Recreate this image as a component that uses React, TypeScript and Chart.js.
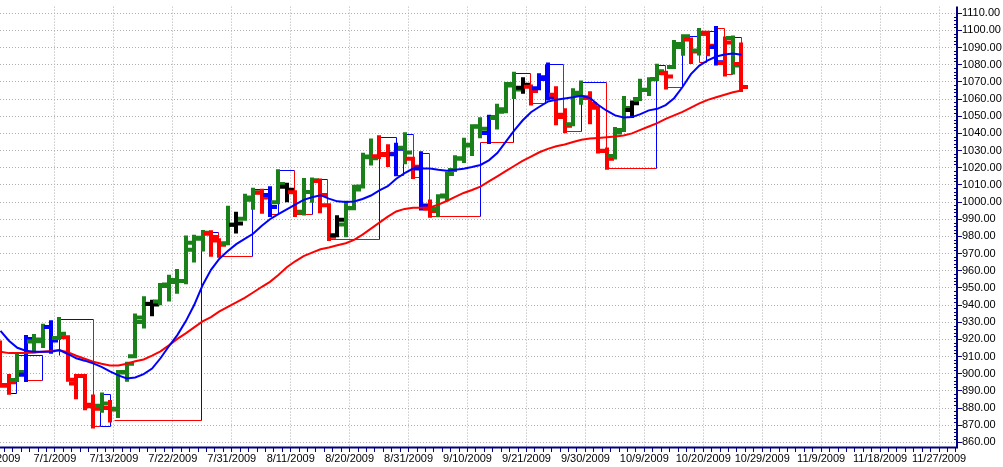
import React, { useEffect, useRef } from 'react';
import { Chart, registerables } from 'chart.js';

Chart.register(...registerables);

// ---------- data ----------
// x tick labels: one every 7 trading days, starting at day index 0 (6/22/2009)
const xTickLabels = [
  '6/22/2009', '7/1/2009', '7/13/2009', '7/22/2009', '7/31/2009', '8/11/2009',
  '8/20/2009', '8/31/2009', '9/10/2009', '9/21/2009', '9/30/2009', '10/9/2009',
  '10/20/2009', '10/29/2009', '11/9/2009', '11/18/2009', '11/27/2009',
];

const yTickValues = [
  860, 870, 880, 890, 900, 910, 920, 930, 940, 950, 960, 970, 980, 990, 1000,
  1010, 1020, 1030, 1040, 1050, 1060, 1070, 1080, 1090, 1100, 1110,
];

const opens = [
  918.13, 893.46, 896.31, 899.45, 918.84, 919.86, 927.15, 920.82, 921.24, 894.27,
  898.6, 881.9, 881.28, 880.03, 879.57, 900.77, 910.15, 930.17, 940.56, 942.07,
  951.97, 953.4, 954.07, 972.16, 978.63, 981.48, 977.66, 976.01, 986.8, 990.22,
  1001.41, 1005.41, 1004.06, 999.83, 1008.89, 1005.77, 994.0, 1005.86, 1012.23, 998.18,
  980.62, 986.88, 996.41, 1009.06, 1026.59, 1026.63, 1027.35, 1027.81, 1031.62, 1025.21,
  1019.52, 996.07, 996.12, 1003.84, 1018.67, 1025.36, 1032.99, 1043.92, 1040.15, 1049.03,
  1053.99, 1067.87, 1066.6, 1067.14, 1066.35, 1072.69, 1062.56, 1049.48, 1045.38, 1063.69,
  1061.02, 1054.91, 1029.71, 1026.87, 1042.02, 1053.65, 1060.03, 1065.28, 1071.63, 1074.96,
  1078.68, 1090.36, 1094.67, 1088.22, 1098.64, 1090.36, 1080.96, 1095.62, 1080.36,
];
const highs = [
  918.13, 898.69, 910.85, 921.42, 922.0, 927.99, 930.01, 931.92, 921.24, 898.72,
  898.6, 886.8, 887.86, 883.57, 901.05, 905.84, 933.95, 943.96, 941.89, 951.62,
  956.53, 959.83, 979.42, 979.79, 982.49, 982.35, 977.76, 996.68, 993.18, 1003.61,
  1007.12, 1006.64, 1008.0, 1018.0, 1010.12, 1005.77, 1012.78, 1013.14, 1012.6, 998.18,
  991.2, 999.61, 1008.92, 1027.59, 1035.82, 1037.75, 1032.47, 1033.33, 1039.47, 1025.21,
  1028.45, 1000.34, 1003.43, 1016.48, 1026.07, 1036.34, 1044.14, 1048.18, 1049.74, 1056.04,
  1068.76, 1074.77, 1071.52, 1067.28, 1073.81, 1080.15, 1066.29, 1053.47, 1065.13, 1069.62,
  1063.4, 1054.91, 1030.6, 1042.58, 1060.55, 1058.02, 1070.67, 1071.51, 1079.46, 1075.3,
  1093.17, 1096.56, 1094.67, 1100.17, 1098.64, 1101.36, 1095.21, 1095.83, 1091.75,
];
const lows = [
  893.04, 888.86, 896.31, 896.27, 913.03, 916.18, 912.86, 920.82, 896.42, 886.36,
  879.93, 869.32, 878.45, 872.81, 875.32, 896.5, 910.15, 927.45, 934.65, 940.99,
  943.22, 947.75, 953.27, 965.95, 972.29, 969.35, 968.65, 976.01, 982.85, 990.22,
  996.68, 994.31, 992.49, 999.83, 1000.99, 992.4, 993.36, 1000.82, 994.6, 978.51,
  980.62, 980.62, 996.39, 1009.06, 1022.48, 1026.21, 1021.57, 1016.2, 1023.13, 1014.62,
  996.28, 991.97, 992.25, 1001.65, 1018.67, 1023.97, 1028.04, 1038.4, 1035.0, 1043.42,
  1052.87, 1061.2, 1064.27, 1057.46, 1066.35, 1060.39, 1045.85, 1041.17, 1045.38, 1057.83,
  1046.47, 1029.45, 1019.95, 1025.92, 1042.02, 1050.1, 1060.03, 1063.0, 1071.63, 1066.71,
  1078.68, 1086.41, 1081.53, 1086.48, 1086.16, 1080.77, 1074.31, 1075.49, 1065.23,
];
const closes = [
  893.04, 895.1, 900.94, 920.26, 918.9, 927.23, 919.32, 923.33, 896.42, 898.72,
  881.03, 879.56, 882.68, 879.13, 901.05, 905.84, 932.68, 940.74, 940.38, 951.13,
  954.58, 954.07, 976.29, 979.26, 982.18, 979.62, 975.15, 986.75, 987.48, 1002.63,
  1005.65, 1002.72, 997.08, 1010.48, 1007.1, 994.35, 1005.81, 1012.73, 1004.09, 979.73,
  989.67, 996.46, 1007.37, 1026.13, 1025.57, 1028.0, 1028.12, 1030.98, 1028.93, 1020.62,
  998.04, 994.75, 1003.24, 1016.4, 1025.39, 1033.37, 1044.14, 1042.73, 1049.34, 1052.63,
  1068.76, 1065.49, 1068.3, 1064.66, 1071.66, 1060.87, 1050.78, 1044.38, 1062.98, 1060.61,
  1057.08, 1029.85, 1025.21, 1040.46, 1054.72, 1057.58, 1065.48, 1071.49, 1076.19, 1073.19,
  1092.02, 1096.56, 1087.68, 1097.91, 1091.06, 1081.4, 1092.91, 1079.6, 1066.95,
];
// bar colour codes: g green, r red, b blue, k black
const barColors = [
  'r', 'r', 'g', 'b', 'g', 'g', 'b', 'g', 'r', 'r',
  'r', 'r', 'g', 'r', 'g', 'g', 'g', 'g', 'k', 'g',
  'g', 'g', 'g', 'g', 'g', 'r', 'r', 'g', 'k', 'g',
  'g', 'r', 'b', 'g', 'k', 'r', 'g', 'g', 'r', 'r',
  'k', 'g', 'g', 'g', 'g', 'r', 'r', 'b', 'g', 'r',
  'b', 'r', 'g', 'g', 'g', 'g', 'g', 'g', 'b', 'g',
  'g', 'g', 'k', 'r', 'b', 'b', 'r', 'r', 'g', 'g',
  'r', 'r', 'r', 'g', 'g', 'k', 'g', 'g', 'g', 'r',
  'g', 'g', 'r', 'g', 'r', 'b', 'r', 'g', 'r',
];

// fast (blue) and slow (red) moving averages
const maFast = [
  925, 919.2, 915.1, 913.4, 912.8, 912.8, 912.8, 913.8, 911.5, 909,
  907.6, 906, 904, 901.4, 899, 897.2, 897.8, 899.8, 903, 909,
  916, 922.5, 930.5, 940, 951.5, 960.5, 967, 971.5, 975.5, 978.5,
  981.5, 986, 990, 993, 995.8, 998.5, 1001.3, 1002.8, 1004, 1002,
  1000.4, 1000, 1000.3, 1001.8, 1003.8, 1006.8, 1009.2, 1013.6, 1016.8, 1019.5,
  1019.6, 1019.6, 1018.8, 1018.2, 1018.8, 1019.4, 1020.4, 1021.6, 1024.3, 1028.5,
  1035, 1041.6, 1047.5, 1052.3, 1055.5, 1058.5, 1059.6, 1060.3, 1061, 1061.9,
  1060.6, 1056.5, 1053.2, 1050.5, 1049.3, 1049.5, 1051.2, 1053.4, 1054.3, 1056.5,
  1060.5, 1067, 1074.5, 1079.5, 1082.5, 1084.8, 1086, 1086.5, 1085.8,
];
const maSlow = [
  912.8, 912, 912, 912, 912.3, 912.8, 913.3, 913.7, 912.5, 910.5,
  908.7, 907, 905.8, 904.8, 904.8, 905.8, 907.3, 908.3, 910.5, 913,
  916.5, 920.3, 923.5, 927, 930.5, 933, 936.3, 939, 941.5, 944.2,
  947.3, 950.5, 953.5, 957.5, 962, 965.5, 968.5, 970.5, 972.5, 973.5,
  974.8, 976, 978, 981, 984.5, 988, 991.5, 994.5, 996, 996.7,
  996.7, 996.8, 998.5, 1000.6, 1003, 1005.3, 1007, 1009, 1012, 1015,
  1018, 1021, 1024, 1026.5, 1029, 1031, 1032.5, 1033.5, 1035, 1036.3,
  1037, 1037.3, 1037.7, 1038.2, 1038.8, 1040, 1042, 1044, 1046, 1048.5,
  1050.5, 1052.5, 1055, 1057.5, 1059.5, 1061, 1062.5, 1064, 1065,
];

// swing box lines: [dayFrom, priceFrom, dayTo, priceTo, colour]
const swingLines: [number, number, number, number, string][] = [
  [0.75, 889.0, 1.85, 889.0, 'k'],
  [1.85, 889.0, 1.85, 910.9, 'b'],
  [1.85, 910.9, 4.9, 910.9, 'b'],
  [2.9, 910.9, 2.9, 896.3, 'r'],
  [2.9, 896.3, 4.9, 896.3, 'r'],
  [4.9, 896.3, 4.9, 910.9, 'b'],
  [6.9, 910.9, 6.9, 931.9, 'b'],
  [6.9, 931.9, 10.95, 931.9, 'b'],
  [10.95, 931.9, 10.95, 869.3, 'r'],
  [10.95, 869.3, 11.85, 869.3, 'r'],
  [11.85, 869.3, 11.85, 887.9, 'b'],
  [11.85, 887.9, 12.95, 887.9, 'b'],
  [12.95, 887.9, 12.95, 869.3, 'b'],
  [11.85, 869.3, 12.95, 869.3, 'b'],
  [13.5, 873.2, 23.85, 873.2, 'r'],
  [23.85, 873.2, 23.85, 982.8, 'b'],
  [23.85, 982.8, 25.85, 982.8, 'b'],
  [25.85, 982.8, 25.85, 968.7, 'r'],
  [25.85, 968.7, 29.9, 968.7, 'r'],
  [29.9, 968.7, 29.9, 1007.6, 'b'],
  [29.9, 1007.6, 32.0, 1007.6, 'b'],
  [32.0, 1007.6, 32.0, 992.9, 'b'],
  [32.0, 992.9, 32.9, 992.9, 'r'],
  [32.9, 992.9, 32.9, 1018.6, 'b'],
  [32.9, 1018.6, 34.9, 1018.6, 'b'],
  [34.9, 1018.6, 34.9, 992.9, 'r'],
  [34.9, 992.9, 36.95, 992.9, 'r'],
  [36.95, 992.9, 36.95, 1013.3, 'b'],
  [36.95, 1013.3, 38.75, 1013.3, 'b'],
  [38.75, 1013.3, 38.75, 978.6, 'r'],
  [38.75, 978.6, 44.9, 978.6, 'r'],
  [44.9, 978.6, 44.9, 1037.7, 'b'],
  [44.9, 1037.7, 46.95, 1037.7, 'b'],
  [46.95, 1037.7, 46.95, 1015.8, 'b'],
  [46.95, 1015.8, 47.85, 1015.8, 'r'],
  [47.85, 1015.8, 47.85, 1039.5, 'b'],
  [47.85, 1039.5, 49.0, 1039.5, 'b'],
  [49.0, 1039.5, 49.0, 1014.6, 'r'],
  [49.0, 1014.6, 49.75, 1014.6, 'r'],
  [49.75, 1014.6, 49.75, 1028.8, 'b'],
  [49.75, 1028.8, 50.9, 1028.8, 'b'],
  [50.9, 1028.8, 50.9, 992.0, 'r'],
  [50.9, 992.0, 56.9, 992.0, 'r'],
  [56.9, 992.0, 56.9, 1034.9, 'b'],
  [56.9, 1034.9, 60.9, 1034.9, 'r'],
  [60.9, 1034.9, 60.9, 1074.9, 'b'],
  [60.9, 1074.9, 62.9, 1074.9, 'b'],
  [62.9, 1074.9, 62.9, 1057.8, 'r'],
  [62.9, 1057.8, 64.7, 1057.8, 'r'],
  [64.7, 1057.8, 64.7, 1080.5, 'b'],
  [64.7, 1080.5, 66.8, 1080.5, 'b'],
  [66.8, 1080.5, 66.8, 1041.3, 'r'],
  [66.8, 1041.3, 68.9, 1041.3, 'r'],
  [68.9, 1041.3, 68.9, 1069.7, 'b'],
  [68.9, 1069.7, 71.9, 1069.7, 'b'],
  [71.9, 1069.7, 71.9, 1019.7, 'r'],
  [71.9, 1019.7, 77.9, 1019.7, 'r'],
  [77.9, 1019.7, 77.9, 1079.8, 'b'],
  [77.9, 1079.8, 78.9, 1079.8, 'b'],
  [78.9, 1079.8, 78.9, 1067.3, 'r'],
  [78.9, 1067.3, 80.9, 1067.3, 'r'],
  [80.9, 1067.3, 80.9, 1097.0, 'b'],
  [80.9, 1097.0, 82.9, 1097.0, 'b'],
  [82.9, 1097.0, 82.9, 1081.6, 'r'],
  [82.9, 1081.6, 83.8, 1081.6, 'r'],
  [83.8, 1081.6, 83.8, 1099.8, 'b'],
  [83.8, 1099.8, 84.9, 1099.8, 'b'],
  [84.9, 1099.8, 84.9, 1101.4, 'b'],
  [84.9, 1101.4, 85.9, 1101.4, 'r'],
  [85.9, 1101.4, 85.9, 1074.3, 'r'],
  [85.9, 1074.3, 86.9, 1074.3, 'r'],
  [86.9, 1074.3, 86.9, 1095.9, 'b'],
  [86.9, 1095.9, 87.9, 1095.9, 'b'],
  [87.9, 1095.9, 87.9, 1065.3, 'r'],
];

// ---------- styling / layout ----------
const COLORS: Record<string, string> = {
  g: '#1a801a',
  r: '#ff0000',
  b: '#0000ff',
  k: '#000000',
};
const AXIS = '#000080';
const GRID = '#b0b0b0';
const FONT = { family: 'Arial, "Liberation Sans", sans-serif', size: 11 };
const BAR_OFFSET = 0.534; // bars sit a little right of the date grid line
const X_MIN = -6.651;
const X_MAX = 114.133;
const Y_MIN = 856.73;
const Y_MAX = 1113.85;
const LABEL_STEP = 7;
const CANVAS_W = 1063;
const CANVAS_H = 467;
const SHIFT_LEFT = 60;

const barsPlugin = {
  id: 'ohlcBars',
  beforeDatasetsDraw(chart: any) {
    const { ctx, chartArea, scales } = chart;
    const xs = scales.x;
    const ys = scales.y;
    ctx.save();
    ctx.beginPath();
    ctx.rect(chartArea.left, chartArea.top, chartArea.right - chartArea.left, chartArea.bottom - chartArea.top);
    ctx.clip();
    ctx.setLineDash([]);

    // swing boxes
    ctx.lineWidth = 1;
    ctx.lineCap = 'butt';
    for (const [d0, p0, d1, p1, c] of swingLines) {
      const x0 = Math.round(xs.getPixelForValue(d0 + BAR_OFFSET)) + 0.5;
      const x1 = Math.round(xs.getPixelForValue(d1 + BAR_OFFSET)) + 0.5;
      const y0 = Math.round(ys.getPixelForValue(p0)) + 0.5;
      const y1 = Math.round(ys.getPixelForValue(p1)) + 0.5;
      ctx.strokeStyle = COLORS[c];
      ctx.beginPath();
      ctx.moveTo(x0, y0);
      ctx.lineTo(x1, y1);
      ctx.stroke();
    }

    // OHLC bars
    ctx.lineWidth = 4;
    const tick = 7;
    for (let i = 0; i < opens.length; i++) {
      const cx = Math.round(xs.getPixelForValue(i + BAR_OFFSET));
      const yH = ys.getPixelForValue(highs[i]);
      const yL = ys.getPixelForValue(lows[i]);
      const yO = ys.getPixelForValue(opens[i]);
      const yC = ys.getPixelForValue(closes[i]);
      ctx.strokeStyle = COLORS[barColors[i]];
      ctx.beginPath();
      ctx.moveTo(cx, yH - 2);
      ctx.lineTo(cx, yL + 2);
      ctx.moveTo(cx - tick, yO);
      ctx.lineTo(cx, yO);
      ctx.moveTo(cx, yC);
      ctx.lineTo(cx + tick, yC);
      ctx.stroke();
    }
    ctx.restore();
  },
  afterDraw(chart: any) {
    const { ctx, chartArea, scales } = chart;
    const ys = scales.y;
    ctx.save();
    ctx.setLineDash([]);
    // minor ticks on the price axis
    ctx.strokeStyle = AXIS;
    ctx.lineWidth = 1;
    ctx.beginPath();
    for (let v = yTickValues[0]; v <= yTickValues[yTickValues.length - 1]; v += 2) {
      if (v % 10 === 0) continue;
      const y = Math.round(ys.getPixelForValue(v)) + 0.5;
      ctx.moveTo(chartArea.right - 3, y);
      ctx.lineTo(chartArea.right + 1, y);
    }
    ctx.stroke();
    // solid axis lines
    ctx.lineWidth = 2;
    ctx.beginPath();
    ctx.moveTo(chartArea.left, chartArea.bottom - 0.5);
    ctx.lineTo(chartArea.right + 1, chartArea.bottom - 0.5);
    ctx.moveTo(chartArea.right, chartArea.top);
    ctx.lineTo(chartArea.right, chartArea.bottom + 0.5);
    ctx.stroke();
    ctx.restore();
  },
};

export default function App() {
  const canvasRef = useRef<HTMLCanvasElement | null>(null);

  useEffect(() => {
    const canvas = canvasRef.current;
    if (!canvas) return;

    const dayTicks: number[] = [];
    for (let d = Math.ceil(X_MIN); d <= Math.floor(X_MAX); d++) dayTicks.push(d);

    const chart = new Chart(canvas, {
      type: 'line',
      data: {
        datasets: [
          {
            label: 'fast',
            data: maFast.map((v, i) => ({ x: i + BAR_OFFSET, y: v })),
            borderColor: COLORS.b,
            borderWidth: 2,
            pointRadius: 0,
            tension: 0,
            fill: false,
          },
          {
            label: 'slow',
            data: maSlow.map((v, i) => ({ x: i + BAR_OFFSET, y: v })),
            borderColor: COLORS.r,
            borderWidth: 2,
            pointRadius: 0,
            tension: 0,
            fill: false,
          },
        ],
      },
      options: {
        animation: false,
        responsive: false,
        maintainAspectRatio: false,
        events: [],
        layout: { padding: 0 },
        plugins: {
          legend: { display: false },
          tooltip: { enabled: false },
          title: { display: false },
        },
        scales: {
          x: {
            type: 'linear',
            position: 'bottom',
            min: X_MIN,
            max: X_MAX,
            afterBuildTicks: (scale: any) => {
              scale.ticks = dayTicks.map((v) => ({ value: v }));
            },
            afterFit: (scale: any) => {
              scale.height = 19;
            },
            grid: {
              color: (c: any) =>
                c.tick && Math.round(c.tick.value) % LABEL_STEP === 0 ? GRID : 'rgba(0,0,0,0)',
              lineWidth: 1,
              drawTicks: true,
              tickLength: 4,
              tickColor: AXIS,
              tickWidth: 1,
            },
            border: { display: false, color: AXIS, width: 2, dash: [1, 2] },
            ticks: {
              autoSkip: false,
              maxRotation: 0,
              minRotation: 0,
              padding: 0,
              color: '#000000',
              font: FONT,
              callback: (value: any) => {
                const v = Math.round(Number(value));
                if (v < 0 || v % LABEL_STEP !== 0) return '';
                return xTickLabels[v / LABEL_STEP] ?? '';
              },
            },
          },
          y: {
            type: 'linear',
            position: 'right',
            min: Y_MIN,
            max: Y_MAX,
            afterBuildTicks: (scale: any) => {
              scale.ticks = yTickValues.map((v) => ({ value: v }));
            },
            afterFit: (scale: any) => {
              scale.width = 46;
            },
            grid: {
              color: GRID,
              lineWidth: 1,
              drawTicks: true,
              tickLength: 5,
              tickColor: AXIS,
              tickWidth: 1,
            },
            border: { display: false, color: AXIS, width: 2, dash: [1, 2] },
            ticks: {
              padding: 0,
              color: '#000000',
              font: FONT,
              callback: (value: any) => Number(value).toFixed(2),
            },
          },
        },
      },
      plugins: [barsPlugin],
    } as any);

    return () => {
      chart.destroy();
    };
  }, []);

  return (
    <div
      style={{
        position: 'fixed',
        left: -SHIFT_LEFT,
        top: 0,
        width: CANVAS_W,
        height: CANVAS_H,
        background: '#ffffff',
      }}
    >
      <canvas
        ref={canvasRef}
        width={CANVAS_W}
        height={CANVAS_H}
        style={{ display: 'block', width: CANVAS_W, height: CANVAS_H }}
      />
    </div>
  );
}
